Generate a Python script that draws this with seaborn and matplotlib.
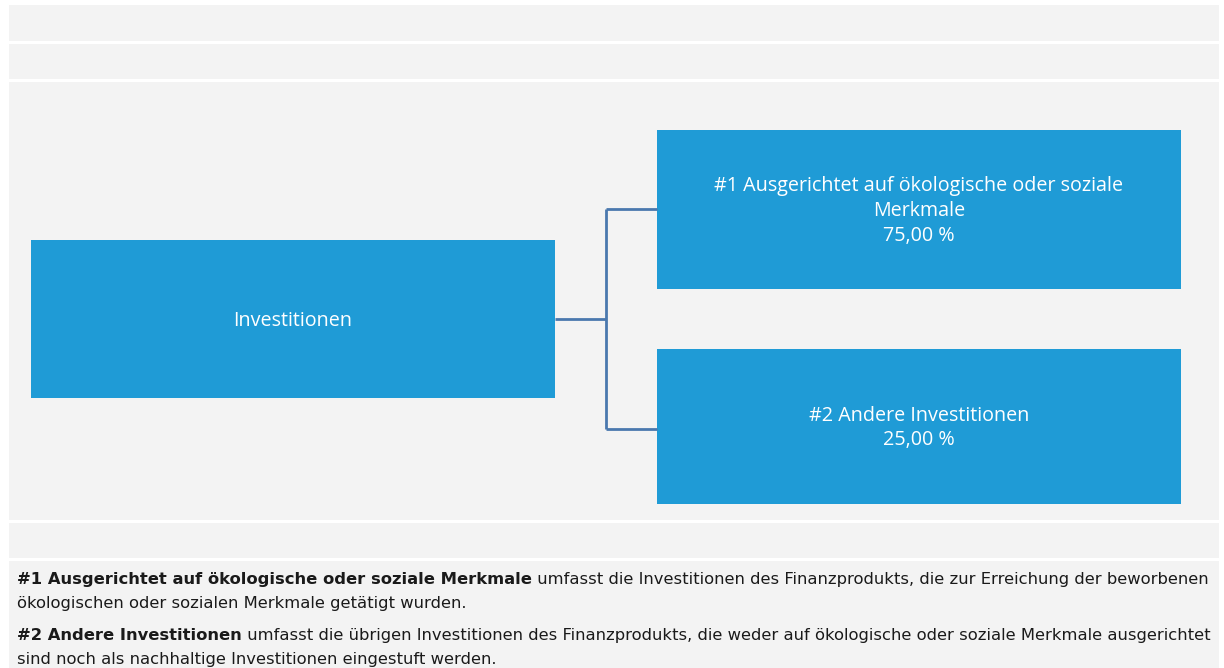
import matplotlib
matplotlib.use("Agg")
import matplotlib.pyplot as plt
from matplotlib.patches import Rectangle
import seaborn as sns

# ---- data ----
node_labels = ["Investitionen",
               "#1 Ausgerichtet auf ökologische oder soziale\nMerkmale",
               "#2 Andere Investitionen"]
node_shares = [None, 75.00, 25.00]
note_bold = ["#1 Ausgerichtet auf ökologische oder soziale Merkmale",
             "#2 Andere Investitionen"]
note_rest_first = [" umfasst die Investitionen des Finanzprodukts, die zur Erreichung der beworbenen",
                   " umfasst die übrigen Investitionen des Finanzprodukts, die weder auf ökologische oder soziale Merkmale ausgerichtet"]
note_rest_second = ["ökologischen oder sozialen Merkmale getätigt wurden.",
                    "sind noch als nachhaltige Investitionen eingestuft werden."]

# ---- layout (pixels) ----
W, H = 1224, 668
bands = [(5, 41), (44, 79), (82, 520), (523, 558), (561, 668)]
boxes = [(31, 240, 555, 398), (657, 130, 1181, 289), (657, 349, 1181, 504)]

BAND = "#f3f3f3"
BOX = "#1f9bd6"
LINE = "#4a78ae"

sns.set_theme(style="white")
plt.rcParams["font.family"] = ["Open Sans", "DejaVu Sans"]

fig = plt.figure(figsize=(W / 100, H / 100), dpi=100)
fig.patch.set_facecolor("white")
ax = fig.add_axes([0, 0, 1, 1])
ax.set_xlim(0, W)
ax.set_ylim(H, 0)
ax.axis("off")

for y0, y1 in bands:
    ax.add_patch(Rectangle((9, y0), 1219 - 9, y1 - y0, facecolor=BAND, edgecolor="none"))

def fmt(v):
    return f"{v:.2f}".replace(".", ",") + " %"

for (x0, y0, x1, y1), lab, share in zip(boxes, node_labels, node_shares):
    ax.add_patch(Rectangle((x0, y0), x1 - x0, y1 - y0, facecolor=BOX, edgecolor="none"))
    txt = lab if share is None else lab + "\n" + fmt(share)
    ax.text((x0 + x1) / 2, (y0 + y1) / 2 + 1.5, txt, ha="center", va="center",
            color="white", fontsize=14.2, linespacing=1.3, family=["Open Sans", "DejaVu Sans"])

# connectors
root = boxes[0]
ry = (root[1] + root[3]) / 2
xm = 606
ax.plot([root[2], xm], [ry, ry], color=LINE, lw=2, solid_capstyle="butt")
ax.plot([xm, xm], [209, 429], color=LINE, lw=2, solid_capstyle="butt")
for yb, b in zip([209, 429], boxes[1:]):
    ax.plot([xm, b[0]], [yb, yb], color=LINE, lw=2, solid_capstyle="butt")

# notes
note_font = ["DejaVu Sans"]
NOTE_SIZE = 11.75
line_y = [(584, 608), (640, 664)]
for bold, r1, r2, (ya, yb) in zip(note_bold, note_rest_first, note_rest_second, line_y):
    t = ax.text(17, ya, bold, fontsize=NOTE_SIZE, fontweight="bold", color="#1a1a1a",
                family=note_font, ha="left", va="baseline")
    ax.annotate(r1, xy=(1, 0), xycoords=t, ha="left", va="bottom", fontsize=NOTE_SIZE,
                color="#1a1a1a", family=note_font)
    ax.text(17, yb, r2, fontsize=NOTE_SIZE, color="#1a1a1a", family=note_font,
            ha="left", va="baseline")

fig.savefig("out.png", dpi=100, facecolor="white")
